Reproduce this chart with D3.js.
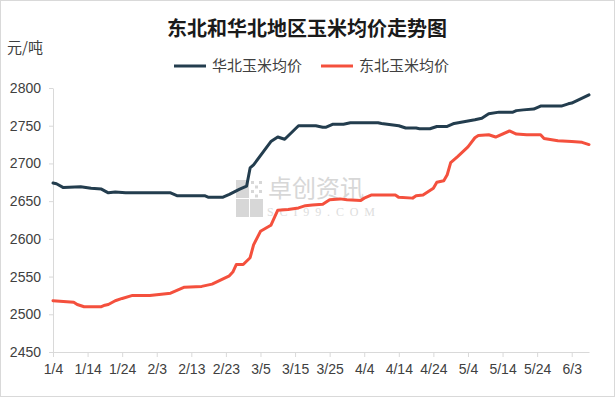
<!DOCTYPE html>
<html>
<head>
<meta charset="utf-8">
<script src="https://cdn.jsdelivr.net/npm/d3@7"></script>
<style>
  body { margin: 0; background: #fff; }
  svg { display: block; font-family: "Liberation Sans", "Noto Sans CJK SC", sans-serif; }
</style>
</head>
<body>
<svg width="615" height="397"></svg>
<script>
// 华北玉米均价 (date, 元/吨)
var huabeiDates = ["1/4","1/5","1/7","1/12","1/15","1/18","1/20","1/22","1/25","2/7","2/9","2/17","2/18","2/22","2/24","2/27","3/1","3/2","3/3","3/8","3/10","3/12","3/16","3/21","3/23","3/24","3/26","3/29","3/31","4/8","4/9","4/14","4/16","4/19","4/20","4/23","4/25","4/28","4/30","5/6","5/8","5/10","5/13","5/17","5/18","5/20","5/23","5/25","5/31","6/2","6/3","6/8"];
var huabeiValues = [2674,2673,2668,2669,2667,2666,2661,2662,2661,2661,2657,2657,2655,2655,2659,2666,2670,2694,2698,2729,2735,2732,2750,2750,2748,2748,2752,2752,2754,2754,2753,2750,2747,2747,2746,2746,2749,2749,2753,2758,2760,2766,2768,2768,2770,2771,2772,2776,2776,2779,2780,2791];

// 东北玉米均价
var dongbeiDates = ["1/4","1/10","1/11","1/13","1/18","1/19","1/20","1/22","1/24","1/27","2/1","2/7","2/8","2/11","2/16","2/19","2/24","2/25","2/26","2/28","3/2","3/3","3/5","3/8","3/10","3/13","3/16","3/18","3/20","3/23","3/25","3/28","3/30","4/3","4/4","4/6","4/13","4/14","4/18","4/19","4/21","4/24","4/25","4/27","4/28","4/29","5/1","5/4","5/6","5/7","5/10","5/12","5/16","5/18","5/21","5/25","5/26","5/30","6/3","6/6","6/8"];
var dongbeiValues = [2518,2516,2513,2510,2510,2512,2513,2518,2521,2525,2525,2528,2530,2536,2537,2540,2551,2556,2566,2566,2575,2592,2610,2618,2638,2639,2641,2644,2645,2646,2652,2653,2652,2651,2654,2658,2658,2655,2654,2657,2658,2667,2675,2677,2685,2701,2709,2722,2734,2737,2738,2735,2743,2739,2738,2738,2733,2730,2729,2728,2725];

var tickLabels = ["1/4","1/14","1/24","2/3","2/13","2/23","3/5","3/15","3/25","4/4","4/14","4/24","5/4","5/14","5/24","6/3"];
var yTicks = [2450,2500,2550,2600,2650,2700,2750,2800];
var seriesNames = ["华北玉米均价","东北玉米均价"];
var seriesColors = ["#233d4e","#f4503d"];

var parseDate = d3.timeParse("%Y/%m/%d");
function toDate(s) { return parseDate("2022/" + s); }

var svg = d3.select("svg"),
  width = +svg.attr("width"),
  height = +svg.attr("height");

var x = d3.scaleTime()
  .domain([toDate("1/4"), toDate("6/8")])
  .range([53, 589]);

var y = d3.scaleLinear()
  .domain([2450, 2800])
  .range([352, 88]);

// border
svg.append("rect")
  .attr("x", 0.5).attr("y", 0.5)
  .attr("width", width - 1).attr("height", height - 1)
  .style("fill", "#fff")
  .style("stroke", "#d9d9d9");

// watermark
var wm = svg.append("g").style("opacity", 0.6);
[[236,180],[250,180],[236,199],[250,199]].forEach(function(p, i) {
  if (i != 1) wm.append("rect").attr("x", p[0]).attr("y", p[1]).attr("width", 13).attr("height", 18)
    .style("fill", "#bdbdbd");
});
for (var i = 0; i < 3; i++) for (var j = 0; j < 4; j++) {
  if ((i + j) % 2 == 0) wm.append("rect").attr("x", 251 + i * 4).attr("y", 181 + j * 4.5).attr("width", 3).attr("height", 3).style("fill", "#bdbdbd");
}
wm.append("text").attr("x", 268).attr("y", 197)
  .style("font-family", "Noto Sans CJK SC").style("font-size", "24px").style("fill", "#bdbdbd")
  .text("卓创资讯");
wm.append("text").attr("x", 267).attr("y", 216)
  .style("font-family", "Liberation Serif").style("font-size", "12px").style("fill", "#c8c8c8")
  .attr("textLength", 108)
  .text("SCI99.COM");

// title
svg.append("text")
  .attr("x", 307).attr("y", 36)
  .attr("text-anchor", "middle")
  .style("font-family", "Noto Sans CJK SC")
  .style("font-weight", "bold")
  .style("font-size", "20px")
  .style("fill", "#1a1a1a")
  .text("东北和华北地区玉米均价走势图");

// unit
svg.append("text")
  .attr("x", 7).attr("y", 53)
  .style("font-family", "Noto Sans CJK SC")
  .style("font-size", "15px")
  .style("fill", "#404040")
  .text("元/吨");

// legend
var legend = svg.append("g").selectAll("g")
  .data(seriesNames)
  .enter().append("g")
  .attr("transform", function(d, i) { return "translate(" + (174 + i * 147) + ",66)"; });
legend.append("line")
  .attr("x1", 0).attr("x2", 32)
  .style("stroke", function(d, i) { return seriesColors[i]; })
  .style("stroke-width", 3);
legend.append("text")
  .attr("x", 38).attr("dy", "0.35em")
  .style("font-family", "Noto Sans CJK SC")
  .style("font-size", "15px")
  .style("fill", "#404040")
  .text(function(d) { return d; });

// axes
var xAxis = svg.append("g")
  .attr("transform", "translate(0,352)")
  .call(d3.axisBottom(x)
    .tickValues(tickLabels.map(toDate))
    .tickFormat(d3.timeFormat("%-m/%-d"))
    .tickSize(5)
    .tickSizeOuter(0)
    .tickPadding(7));

var yAxis = svg.append("g")
  .attr("transform", "translate(53,0)")
  .call(d3.axisLeft(y)
    .tickValues(yTicks)
    .tickFormat(d3.format("d"))
    .tickSize(4)
    .tickSizeOuter(0)
    .tickPadding(8));

svg.selectAll(".domain, .tick line").style("stroke", "#d9d9d9");
svg.selectAll(".tick text")
  .style("font-family", "Liberation Sans")
  .style("font-size", "14px")
  .style("fill", "#404040");

// lines
var line = d3.line()
  .x(function(d) { return x(d.date); })
  .y(function(d) { return y(d.value); });

var series = [
  huabeiDates.map(function(d, i) { return { date: toDate(d), value: huabeiValues[i] }; }),
  dongbeiDates.map(function(d, i) { return { date: toDate(d), value: dongbeiValues[i] }; })
];

svg.append("g")
  .selectAll("path")
  .data(series)
  .enter().append("path")
  .attr("d", line)
  .style("fill", "none")
  .style("stroke", function(d, i) { return seriesColors[i]; })
  .style("stroke-width", 3)
  .style("stroke-linejoin", "round")
  .style("stroke-linecap", "round");
</script>
</body>
</html>
